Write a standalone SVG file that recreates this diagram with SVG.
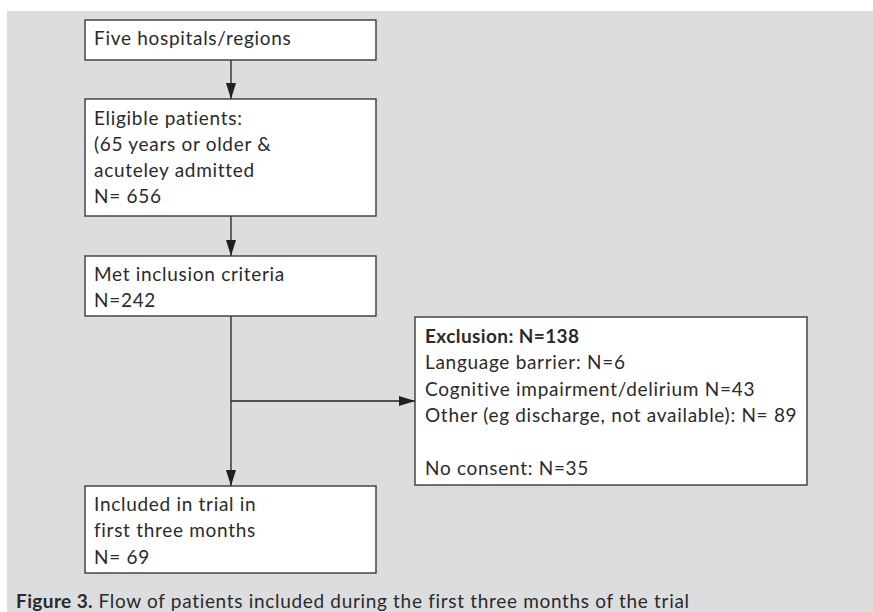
<svg xmlns="http://www.w3.org/2000/svg" width="873" height="612" viewBox="0 0 873 612">
<defs>
<style>
.box{fill:#fff;stroke:#3a3a3a;stroke-width:1.4}
.t{font-family:Lato,"Liberation Sans",sans-serif;font-size:19px;letter-spacing:0.7px;fill:#2a2a2a}
.b{font-weight:bold;letter-spacing:0.4px}
.cap{letter-spacing:0.68px}
.c{stroke:#231f20;stroke-width:1.3;fill:none}
</style>
<marker id="ah" viewBox="0 0 16 10" refX="16" refY="5" markerWidth="16" markerHeight="10" markerUnits="userSpaceOnUse" orient="auto">
<path d="M0,0 L16,5 L0,10 Z" fill="#231f20"/>
</marker>
</defs>
<rect x="0" y="0" width="873" height="612" fill="#fff"/>
<rect x="7" y="11" width="866" height="601" fill="#dcdddf"/>
<g id="connectors">
<line class="c" x1="231" y1="60" x2="231" y2="99" marker-end="url(#ah)"/>
<line class="c" x1="231" y1="216" x2="231" y2="256" marker-end="url(#ah)"/>
<line class="c" x1="231" y1="316" x2="231" y2="486" marker-end="url(#ah)"/>
<line class="c" x1="231" y1="401" x2="415" y2="401" marker-end="url(#ah)"/>
</g>
<g id="n1">
<rect class="box" x="85" y="20" width="291" height="40"/>
<text class="t" x="94" y="45">Five hospitals/regions</text>
</g>
<g id="n2">
<rect class="box" x="85" y="99" width="291" height="117"/>
<text class="t" x="94" y="125">Eligible patients:</text>
<text class="t" x="94" y="151">(65 years or older &amp;</text>
<text class="t" x="94" y="177">acuteley admitted</text>
<text class="t" x="94" y="203">N= 656</text>
</g>
<g id="n3">
<rect class="box" x="85" y="256" width="291" height="60"/>
<text class="t" x="94" y="281">Met inclusion criteria</text>
<text class="t" x="94" y="307">N=242</text>
</g>
<g id="n4">
<rect class="box" x="85" y="486" width="291" height="87"/>
<text class="t" x="94" y="511">Included in trial in</text>
<text class="t" x="94" y="537">first three months</text>
<text class="t" x="94" y="564">N= 69</text>
</g>
<g id="n5">
<rect class="box" x="415" y="317" width="392" height="168"/>
<text class="t b" x="425" y="343">Exclusion: N=138</text>
<text class="t" x="425" y="369">Language barrier: N=6</text>
<text class="t" x="425" y="396">Cognitive impairment/delirium N=43</text>
<text class="t" x="425" y="422">Other (eg discharge, not available): N= 89</text>
<text class="t" x="425" y="475">No consent: N=35</text>
</g>
<text class="t cap" x="16" y="608"><tspan class="b">Figure 3.</tspan> Flow of patients included during the first three months of the trial</text>
</svg>
